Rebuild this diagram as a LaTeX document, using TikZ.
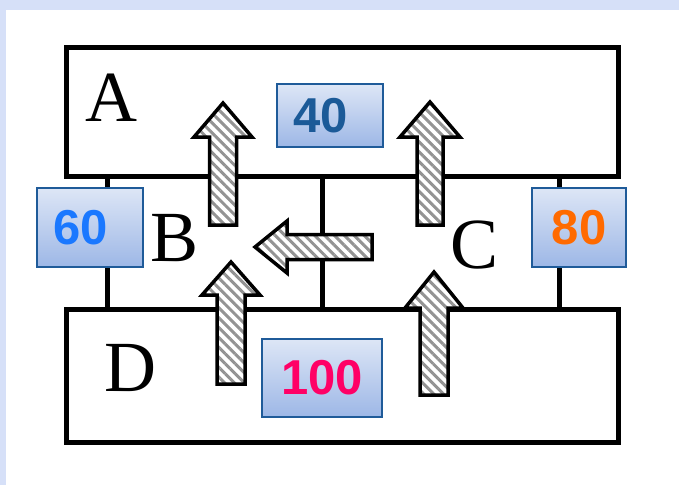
\documentclass[tikz,border=0pt]{standalone}
\usepackage{fontspec}
\setmainfont{Liberation Serif}
\newfontfamily\numfont{Liberation Sans}
\usetikzlibrary{patterns.meta}
\definecolor{bgblue}{HTML}{D6E0F8}
\definecolor{boxtop}{HTML}{DDE6F6}
\definecolor{boxbot}{HTML}{9DB7E6}
\definecolor{boxedge}{HTML}{1F5B99}
\definecolor{cforty}{HTML}{1B5A98}
\definecolor{csixty}{HTML}{1A78FF}
\definecolor{ceighty}{HTML}{FF6A00}
\definecolor{chundred}{HTML}{FF0066}
\tikzset{
  wall/.style={draw=black, line width=5pt, line join=miter},
  letter/.style={inner sep=0pt, font=\fontsize{72}{72}\selectfont},
  valbox/.style={draw=boxedge, line width=1.8pt, top color=boxtop, bottom color=boxbot,
    inner sep=0pt, font=\numfont\bfseries\fontsize{49}{49}\selectfont},
  hatcharrow/.style={draw=black, line width=3.5pt, line join=miter,
    preaction={fill=white},
    pattern={Lines[angle=-45,distance=7pt,line width=3pt]}, pattern color=gray!85}
}
% #1 cx, #2 shaft half width, #3 head half width, #4 tip y, #5 head base y, #6 tail y
\newcommand\UpArr[6]{%
  \path[hatcharrow] ({#1-#2},#6) -- ({#1-#2},#5) -- ({#1-#3},#5) -- (#1,#4)
     -- ({#1+#3},#5) -- ({#1+#2},#5) -- ({#1+#2},#6) -- cycle;}
% #1 cy, #2 shaft half width, #3 head half width, #4 tip x, #5 head base x, #6 tail x
\newcommand\LeftArr[6]{%
  \path[hatcharrow] (#6,{#1-#2}) -- (#5,{#1-#2}) -- (#5,{#1-#3}) -- (#4,#1)
     -- (#5,{#1+#3}) -- (#5,{#1+#2}) -- (#6,{#1+#2}) -- cycle;}
\begin{document}
\begin{tikzpicture}[x=1pt,y=-1pt]
\fill[bgblue] (0,0) rectangle (679,485);
\fill[white] (6,10) rectangle (679,485);
\useasboundingbox (0,0) rectangle (679,485);
% walls
\draw[wall] (107,176) -- (107,309);
\draw[wall] (322,176) -- (322,309);
\draw[wall] (559,176) -- (559,309);
\draw[wall] (66,47) rectangle (618,176);
\draw[wall] (66,309) rectangle (618,442);
% letters
\node[letter] (la) at (111,98) {A};
\node[letter] (lb) at (175,238) {B};
\node[letter] (lc) at (475,245) {C};
\node[letter] (ld) at (130,368) {D};
% arrows
\UpArr{223}{13.5}{29}{103}{137}{225}
\UpArr{430}{13}{30}{102}{137}{225}
\UpArr{231}{14}{29}{262}{295}{384}
\UpArr{434}{14}{29}{272}{308}{395}
\LeftArr{247}{12.5}{26}{255}{287}{372}
% value boxes
\node[valbox, minimum width=106pt, minimum height=63pt, text=cforty] (v40) at (330,115.5) {\hspace*{-18pt}40};
\node[valbox, minimum width=106pt, minimum height=79pt, text=csixty] (v60) at (90,227.5) {\hspace*{-18pt}60};
\node[valbox, minimum width=94pt, minimum height=79pt, text=ceighty] (v80) at (579,227.5) {80};
\node[valbox, minimum width=120pt, minimum height=78pt, text=chundred] (v100) at (322,378) {100};
\end{tikzpicture}
\end{document}
